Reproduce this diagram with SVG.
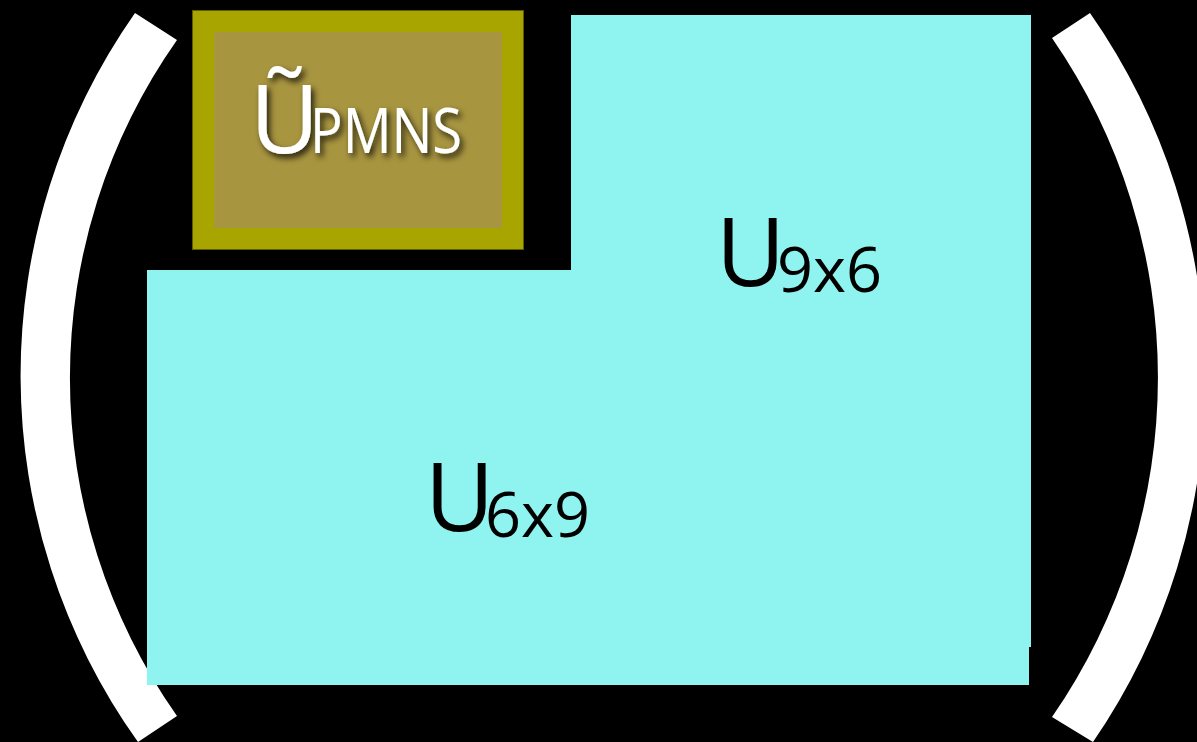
<svg xmlns="http://www.w3.org/2000/svg" width="1197" height="742" viewBox="0 0 1197 742">
  <defs>
    <filter id="shadow" x="-20%" y="-20%" width="140%" height="160%">
      <feDropShadow dx="3" dy="4" stdDeviation="3" flood-color="#000" flood-opacity="0.8"/>
    </filter>
  </defs>
  <style>
    .cyan { fill: #8ff4ef; }
    .bracket { fill: #ffffff; }
    .lbl { font-family: "Open Sans", "DejaVu Sans", sans-serif; fill: #000; }
    .pm { font-family: "Open Sans", "DejaVu Sans", sans-serif; fill: #ffffff; }
  </style>
  <rect x="0" y="0" width="1197" height="742" fill="#000"/>

  <g id="bracket-left">
    <path class="bracket" d="M135,13 A631,631 0 0 0 138,742 L177,716 A587,587 0 0 1 177,40 Z"/>
  </g>
  <g id="bracket-right">
    <path class="bracket" d="M1090,13 A640,640 0 0 1 1093,742 L1052,717 A597,597 0 0 0 1052,38 Z"/>
  </g>

  <g id="u9x6">
    <rect class="cyan" x="571" y="15" width="460" height="632"/>
  </g>
  <g id="u6x9">
    <rect class="cyan" x="147" y="270" width="882" height="415"/>
  </g>
  <g id="u9x6-label">
    <text class="lbl" x="716" y="286" font-size="95">U</text>
    <text class="lbl" x="777" y="292" font-size="63">9x6</text>
  </g>
  <g id="u6x9-label">
    <text class="lbl" x="425" y="531" font-size="95">U</text>
    <text class="lbl" x="485" y="537" font-size="63">6x9</text>
  </g>

  <g id="upmns">
    <rect x="192.5" y="10.5" width="331" height="239" fill="#a8a500" stroke="#5e5c00" stroke-width="1"/>
    <rect x="214" y="32" width="288" height="196" fill="#a89540"/>
    <g filter="url(#shadow)">
      <text class="pm" x="250" y="153" font-size="95">Ũ</text>
      <text class="pm" x="310" y="153" font-size="63" textLength="152" lengthAdjust="spacingAndGlyphs">PMNS</text>
    </g>
  </g>
  <g id="connectors"/>
</svg>
